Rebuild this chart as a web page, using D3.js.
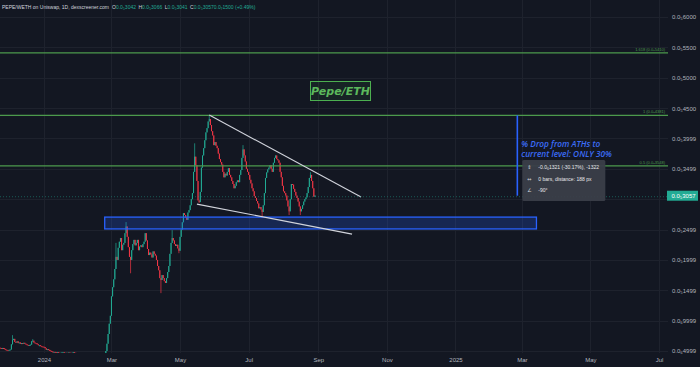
<!DOCTYPE html>
<html><head><meta charset="utf-8">
<script src="https://cdn.jsdelivr.net/npm/d3@7"></script>
<style>html,body{margin:0;padding:0;background:#131722;overflow:hidden}</style>
</head><body>
<svg id="c" width="700" height="367"></svg>
<script>
// ---------------- DATA ----------------
const earlyStart = "2023-11-23";
const earlyFirstOpen = 0.0555;
const earlyClose = [0.055,0.054,0.055,0.0545,0.053,0.052,0.0515,0.051,0.052,0.0525,
  0.061,0.068,0.070,0.065,0.064,0.066,0.063,0.064,0.062,0.063,
  0.062,0.0635,0.062,0.061,0.060,0.0595,0.060,0.0605,0.066,0.067,
  0.064,0.063,0.0625,0.061,0.0595,0.0595,0.058,0.0575,0.057,0.0565,
  0.0545,0.052,0.053,0.052,0.051,0.050,0.049,0.048,0.0485,0.048,
  0.0475,0.048,0.047,0.0465,0.047,0.0478,0.048,0.047,0.0465,0.047,
  0.0468,0.0475,0.047,0.0465,0.047,0.048,0.047,0.0468,0.0465];
const mainStart = "2024-02-25";
const mainFirstOpen = 0.030;
const mainClose = [0.050,0.062,0.078,0.095,0.108,0.140,0.155,0.168,0.185,0.205,
  0.200,0.220,0.230,0.236,0.216,0.225,0.228,0.244,0.255,0.238,
  0.221,0.205,0.200,0.216,0.226,0.233,0.224,0.228,0.233,0.216,
  0.222,0.224,0.221,0.226,0.230,0.244,0.232,0.218,0.208,0.212,
  0.209,0.204,0.214,0.210,0.207,0.200,0.190,0.183,0.170,0.167,
  0.175,0.170,0.165,0.162,0.170,0.180,0.190,0.210,0.228,0.236,
  0.232,0.226,0.223,0.225,0.219,0.215,0.238,0.250,0.262,0.277,
  0.274,0.270,0.266,0.278,0.282,0.290,0.300,0.310,0.345,0.370,
  0.356,0.330,0.298,0.2952,0.312,0.352,0.372,0.384,0.397,0.410,
  0.417,0.428,0.432,0.422,0.412,0.405,0.389,0.394,0.388,0.384,
  0.375,0.366,0.361,0.357,0.345,0.336,0.342,0.339,0.345,0.351,
  0.340,0.336,0.330,0.325,0.318,0.322,0.328,0.331,0.328,0.340,
  0.348,0.368,0.382,0.372,0.362,0.350,0.345,0.340,0.332,0.326,
  0.318,0.313,0.305,0.302,0.297,0.293,0.285,0.287,0.283,0.279,
  0.290,0.310,0.335,0.344,0.349,0.352,0.356,0.350,0.345,0.360,
  0.368,0.372,0.366,0.364,0.360,0.345,0.336,0.322,0.313,0.310,
  0.306,0.298,0.288,0.280,0.300,0.325,0.324,0.317,0.312,0.306,
  0.302,0.296,0.288,0.280,0.284,0.290,0.296,0.300,0.303,0.310,
  0.320,0.335,0.340,0.330,0.318,0.3042,0.3057];
const wickHighDates = ["2023-12-04","2023-12-22","2024-03-05","2024-03-14","2024-04-24","2024-05-14","2024-05-27","2024-06-26","2024-08-25","2024-08-29"];
const wickHighValues = [0.0761,0.0695,0.228,0.2623,0.249,0.392,0.4385,0.389,0.3446,0.3066];
const wickLowDates = ["2024-03-18","2024-04-14","2024-04-30","2024-05-18","2024-07-13","2024-08-06","2024-08-16","2024-08-29"];
const wickLowValues = [0.178,0.1453,0.211,0.2936,0.2705,0.2738,0.2738,0.3041];

const gridValues = [0.60,0.55,0.50,0.45,0.40,0.35,0.30,0.25,0.20,0.15,0.10,0.05];
const yTickValues = [0.60,0.55,0.50,0.45,0.40,0.35,0.25,0.20,0.15,0.10,0.05];
const yTickLabels = ["0.0₅6000","0.0₅5500","0.0₅5000","0.0₅4500","0.0₅3999","0.0₅3499","0.0₅2499","0.0₅1999","0.0₅1499","0.0₆9999","0.0₆4999"];
const xTickDates = ["2024-01-01","2024-03-01","2024-05-01","2024-07-01","2024-09-01","2024-11-01","2025-01-01","2025-03-01","2025-05-01","2025-07-01"];
const xTickLabels = ["2024","Mar","May","Jul","Sep","Nov","2025","Mar","May","Jul"];

const fibValues = [0.5410,0.4381,0.3548];
const fibLabels = ["1.618 (0.0₅5410)","1 (0.0₅4381)","0.5 (0.0₅3548)"];

const lastPrice = 0.3057;
const lastPriceLabel = "0.0₅3057";

const zoneDates = ["2024-02-24","2025-03-14"];
const zoneValues = [0.2705,0.2510];
const upperLineDates = ["2024-05-27","2024-10-09"];
const upperLineValues = [0.4385,0.3035];
const lowerLineDates = ["2024-05-16","2024-10-01"];
const lowerLineValues = [0.2919,0.2425];
const measureDate = "2025-02-25";
const measureValues = [0.4381,0.3057];
const measureRows = ["-0.0₆1321 (-30.17%), -1322","0 bars, distance: 188 px","-90°"];

const titleText = "Pepe/ETH";
const noteLines = ["% Drop from ATHs to","current level: ONLY 30%"];
const headerName = "PEPE/WETH on Uniswap, 1D, dexscreener.com";
const headerKeys = ["O","H","L","C",""];
const headerVals = ["0.0₅3042","0.0₅3066","0.0₅3041","0.0₅3057","0.0₇1500 (+0.49%)"];

// ---------------- CHART ----------------
const W = 700, H = 367, plotR = 668, plotB = 353;
const parse = d3.utcParse("%Y-%m-%d");
const svg = d3.select("#c");
svg.append("rect").attr("width",W).attr("height",H).attr("fill","#131722");

const x = d3.scaleUtc().domain([parse("2024-01-01"), parse("2025-07-01")]).range([44, 659]);
const y = d3.scaleLinear().domain([0.05, 0.60]).range([351, 17]);

// grid
const grid = svg.append("g");
grid.selectAll(".hg").data(gridValues).join("line")
  .attr("x1",0).attr("x2",plotR).attr("y1",d=>Math.round(y(d))+0.5).attr("y2",d=>Math.round(y(d))+0.5)
  .attr("stroke","#1e222d").attr("stroke-width",1);
grid.selectAll(".vg").data(xTickDates).join("line")
  .attr("x1",d=>Math.round(x(parse(d)))+0.5).attr("x2",d=>Math.round(x(parse(d)))+0.5)
  .attr("y1",0).attr("y2",plotB)
  .attr("stroke","#1e222d").attr("stroke-width",1);

// axes
const yAxis = d3.axisRight(y).tickValues(yTickValues).tickFormat((d,i)=>yTickLabels[i]).tickSize(0).tickPadding(4);
const gy = svg.append("g").attr("transform",`translate(${plotR},0)`).call(yAxis);
gy.select(".domain").remove();
gy.selectAll("text").attr("fill","#b2b5be").attr("font-family","Liberation Sans, Arial, sans-serif").attr("font-size","6px");

const xAxis = d3.axisBottom(x).tickValues(xTickDates.map(parse)).tickFormat((d,i)=>xTickLabels[i]).tickSize(0).tickPadding(5);
const gx = svg.append("g").attr("transform",`translate(0,${plotB})`).call(xAxis);
gx.select(".domain").remove();
gx.selectAll("text").attr("fill","#b2b5be").attr("font-family","Liberation Sans, Arial, sans-serif").attr("font-size","6px");

// candles
function buildSeries(start, firstOpen, closes){
  const s = parse(start);
  return closes.map((c,i)=>{
    const date = d3.utcDay.offset(s,i);
    const o = i===0 ? firstOpen : closes[i-1];
    return {date, o, c, h: Math.max(o,c), l: Math.min(o,c)};
  });
}
const candles = buildSeries(earlyStart, earlyFirstOpen, earlyClose).concat(buildSeries(mainStart, mainFirstOpen, mainClose));
const fmt = d3.utcFormat("%Y-%m-%d");
const byDate = new Map(candles.map(d=>[fmt(d.date), d]));
wickHighDates.forEach((d,i)=>{ const c = byDate.get(d); if(c) c.h = Math.max(c.h, wickHighValues[i]); });
wickLowDates.forEach((d,i)=>{ const c = byDate.get(d); if(c) c.l = Math.min(c.l, wickLowValues[i]); });

svg.append("clipPath").attr("id","plotclip").append("rect").attr("x",0).attr("y",0).attr("width",plotR).attr("height",plotB);
const up = "#22ab94", down = "#f23645";
const cg = svg.append("g").attr("clip-path","url(#plotclip)");
cg.selectAll(".wick").data(candles).join("line")
  .attr("x1",d=>x(d.date)).attr("x2",d=>x(d.date))
  .attr("y1",d=>y(d.h)).attr("y2",d=>y(d.l))
  .attr("stroke",d=>d.c>=d.o?up:down).attr("stroke-width",0.7);
cg.selectAll(".body").data(candles).join("rect")
  .attr("x",d=>x(d.date)-0.5).attr("width",1)
  .attr("y",d=>y(Math.max(d.o,d.c)))
  .attr("height",d=>Math.max(1, Math.abs(y(d.o)-y(d.c))))
  .attr("fill",d=>d.c>=d.o?up:down);

// fib lines
const fg = svg.append("g");
fg.selectAll("line").data(fibValues).join("line")
  .attr("x1",0).attr("x2",plotR).attr("y1",d=>y(d)).attr("y2",d=>y(d))
  .attr("stroke","#4c9a4c").attr("stroke-width",1.2);
fg.selectAll("text").data(fibValues).join("text")
  .attr("x",plotR-3).attr("y",d=>y(d)-2).attr("text-anchor","end")
  .attr("fill","#4c9a4c").attr("font-family","Liberation Sans, Arial, sans-serif").attr("font-size","4px")
  .text((d,i)=>fibLabels[i]);

// support zone
svg.append("rect")
  .attr("x",x(parse(zoneDates[0]))).attr("width",x(parse(zoneDates[1]))-x(parse(zoneDates[0])))
  .attr("y",y(zoneValues[0])).attr("height",y(zoneValues[1])-y(zoneValues[0]))
  .attr("fill","rgba(41,98,255,0.22)").attr("stroke","#2962ff").attr("stroke-width",1.3);

// trend lines
function tline(dates, vals){
  svg.append("line")
    .attr("x1",x(parse(dates[0]))).attr("y1",y(vals[0]))
    .attr("x2",x(parse(dates[1]))).attr("y2",y(vals[1]))
    .attr("stroke","#d1d4dc").attr("stroke-width",1.1);
}
tline(upperLineDates, upperLineValues);
tline(lowerLineDates, lowerLineValues);

// last price dotted line
svg.append("line").attr("x1",0).attr("x2",plotR).attr("y1",y(lastPrice)+1).attr("y2",y(lastPrice)+1)
  .attr("stroke",up).attr("stroke-opacity",0.45).attr("stroke-dasharray","1,2");

// Pepe/ETH title
const tx = 340.5, ty = 91;
svg.append("rect").attr("x",tx-30).attr("y",ty-9.5).attr("width",60).attr("height",19)
  .attr("fill","rgba(76,175,80,0.08)").attr("stroke","#4caf50").attr("stroke-width",1);
svg.append("text").attr("x",tx).attr("y",ty+4).attr("text-anchor","middle")
  .attr("fill","#5cb85c").attr("font-family","DejaVu Sans, sans-serif").attr("font-style","italic").attr("font-weight","bold")
  .attr("font-size","11px").text(titleText);

// measure line
const mx = x(parse(measureDate));
svg.append("line").attr("x1",mx).attr("x2",mx).attr("y1",y(measureValues[0])).attr("y2",y(measureValues[1]))
  .attr("stroke","#2962ff").attr("stroke-width",1.6);
svg.selectAll(".note").data(noteLines).join("text")
  .attr("x",mx+4).attr("y",(d,i)=>147+i*9.5)
  .attr("fill","#3b6cf6").attr("font-family","Open Sans, sans-serif").attr("font-style","italic").attr("font-weight","600")
  .attr("font-size","8.3px").text(d=>d);

// measure tooltip
const bx = mx+5, by = 160;
svg.append("rect").attr("x",bx).attr("y",by).attr("width",83).attr("height",41).attr("rx",1.5)
  .attr("fill","#3a3e49").attr("fill-opacity",0.95);
const icons = ["⇕","↔","∠"];
measureRows.forEach((t,i)=>{
  svg.append("text").attr("x",bx+5).attr("y",by+9+i*11.5).attr("fill","#d1d4dc")
    .attr("font-family","DejaVu Sans, sans-serif").attr("font-size","5px").text(icons[i]);
  svg.append("text").attr("x",bx+16).attr("y",by+9+i*11.5).attr("fill","#e8e9ec")
    .attr("font-family","Liberation Sans, Arial, sans-serif").attr("font-size","5px").text(t);
});

// price tag
const py = y(lastPrice);
svg.append("rect").attr("x",plotR-1).attr("y",py-5).attr("width",31).attr("height",10).attr("fill",up);
svg.append("text").attr("x",plotR+3.5).attr("y",py+2.2).attr("fill","#ffffff")
  .attr("font-family","Liberation Sans, Arial, sans-serif").attr("font-size","6px").text(lastPriceLabel);

// header
const ht = svg.append("text").attr("x",2).attr("y",9).attr("font-family","Liberation Sans, Arial, sans-serif").attr("font-size","5px");
ht.append("tspan").attr("fill","#d1d4dc").text(headerName);
headerKeys.forEach((k,i)=>{
  ht.append("tspan").attr("fill","#d1d4dc").attr("dx",i===0?3:2.5).text(k);
  ht.append("tspan").attr("fill",up).text(headerVals[i]);
});
</script>
</body></html>
